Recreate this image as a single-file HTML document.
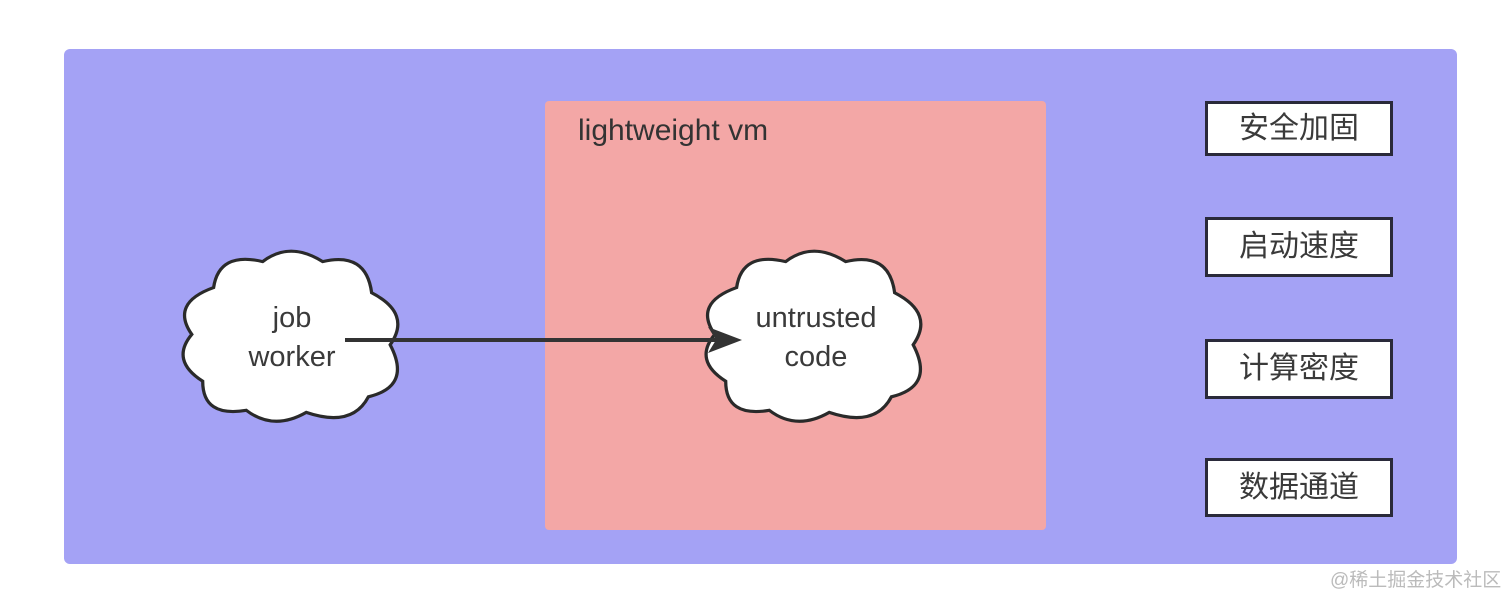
<!DOCTYPE html>
<html><head><meta charset="utf-8"><style>
body{margin:0;width:1512px;height:604px;background:#fff;position:relative;overflow:hidden;font-family:"Liberation Sans","Noto Sans CJK SC",sans-serif}
.outer{position:absolute;left:64px;top:49px;width:1393px;height:515px;background:#a4a2f5;border-radius:6px}
.pink{position:absolute;left:545px;top:101px;width:501px;height:429px;background:#f3a7a6;border-radius:4px}
.lbl{position:absolute;left:578px;top:114px;font-size:30px;color:#333}
.box{position:absolute;left:1205px;border:3px solid #2a2a3a;background:#fff;font-size:30px;color:#3a3a3a;text-align:center;box-sizing:border-box;width:188px}
.wm{position:absolute;left:1330px;top:565px;font-size:19px;color:#bbb}
</style></head><body>
<div class="outer"></div>
<div class="pink"></div>
<div class="lbl">lightweight vm</div>
<svg width="1512" height="604" style="position:absolute;left:0;top:0">
<defs><path id="c" d="M 40,40 Q 45,5 85,15 Q 110,-5 140,15 Q 180,5 185,45 Q 222,65 202,95 Q 222,135 182,145 Q 167,175 125,160 Q 95,178 70,158 Q 30,165 30,130 Q 0,110 20,85 Q 0,55 40,40 Z"/></defs>
<use href="#c" transform="translate(170,246) scale(1.09,1.04)" fill="#fff" stroke="#2a2a2a" stroke-width="3"/>
<use href="#c" transform="translate(693,246) scale(1.09,1.04)" fill="#fff" stroke="#2a2a2a" stroke-width="3"/>
<line x1="345" y1="340" x2="718" y2="340" stroke="#333" stroke-width="4"/>
<polygon points="742,340 708,327 716,340 708,353" fill="#333"/>
<g font-size="29" fill="#3a3a3a" text-anchor="middle" font-family="Liberation Sans, sans-serif">
<text x="292" y="327">job</text><text x="292" y="366">worker</text>
<text x="816" y="327">untrusted</text><text x="816" y="366">code</text>
</g>
</svg>
<div class="box" style="top:101px;height:55px;line-height:49px">安全加固</div>
<div class="box" style="top:217px;height:60px;line-height:54px">启动速度</div>
<div class="box" style="top:339px;height:60px;line-height:54px">计算密度</div>
<div class="box" style="top:458px;height:59px;line-height:53px">数据通道</div>
<div class="wm">@稀土掘金技术社区</div>
</body></html>
